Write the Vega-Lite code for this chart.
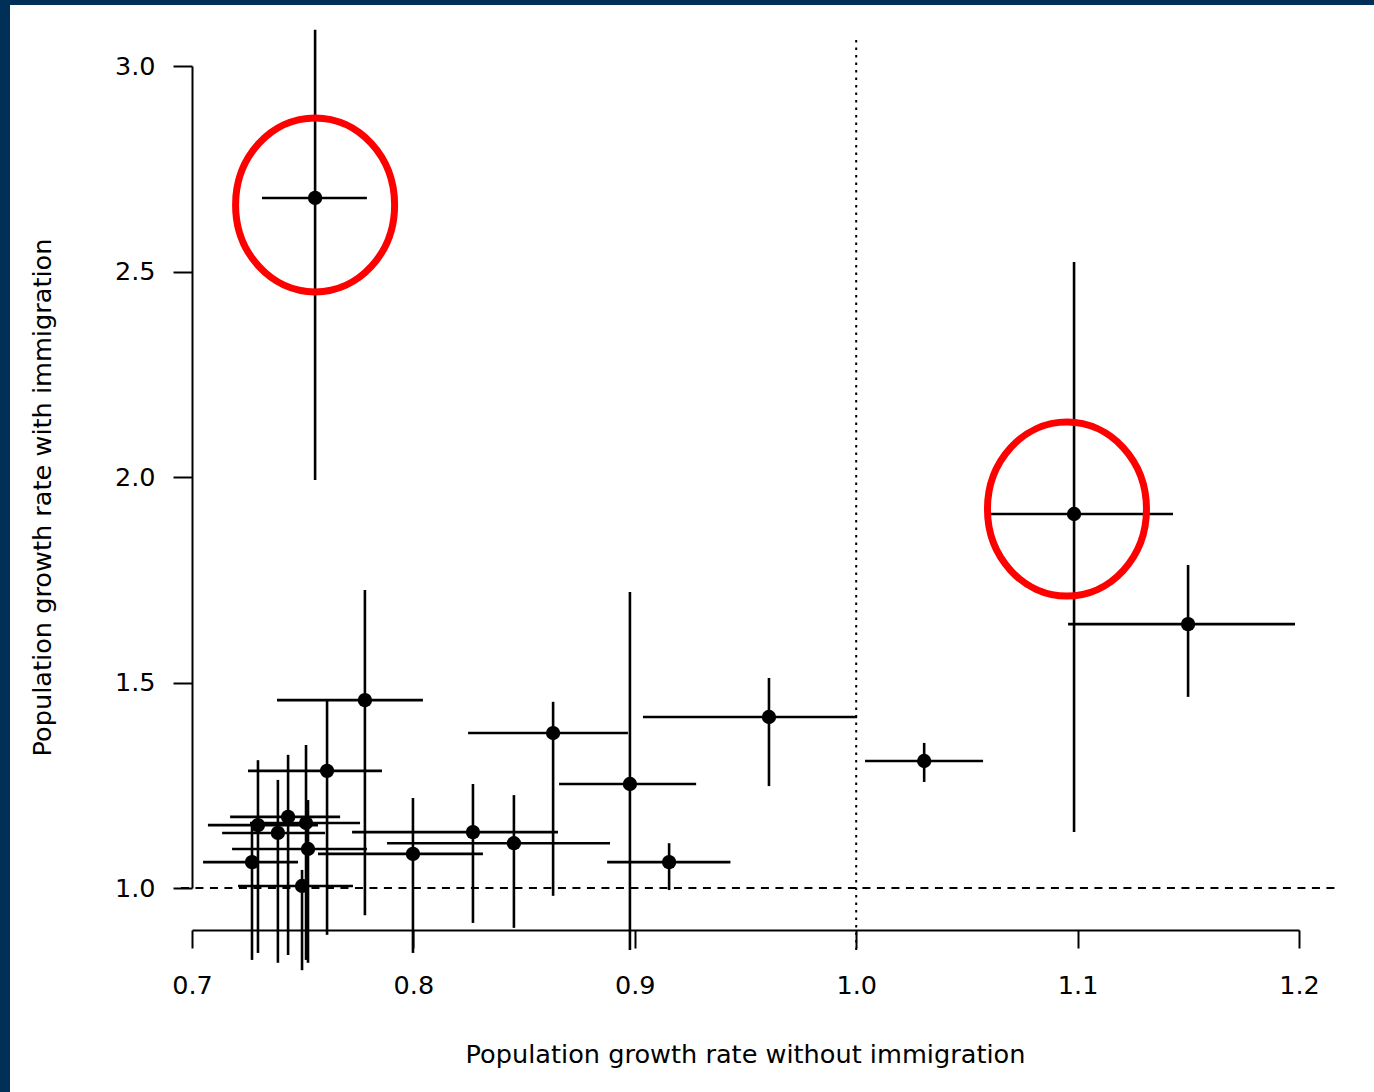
{
  "$schema": "https://vega.github.io/schema/vega-lite/v6.json",
  "padding": 0,
  "background": "white",
  "config": {"view": {"stroke": null}, "font": "DejaVu Sans"},
  "bounds": "flush",
  "spacing": 0,
  "hconcat": [
    {"width": 10, "height": 1092, "view": {"fill": "#003057", "stroke": null}, "data": {"values": []}, "mark": "rect", "encoding": {}},
    {
      "bounds": "flush",
      "spacing": 61,
      "vconcat": [
        {"width": 1364, "height": 5, "view": {"fill": "#003057", "stroke": null}, "data": {"values": []}, "mark": "rect", "encoding": {}},
        {
          "bounds": "flush",
          "spacing": 181,
          "hconcat": [
            {"width": 1, "height": 822, "data": {"values": []}, "mark": "rect", "encoding": {}},
            {
              "width": 1107,
              "height": 822,
              "data": {"values": [
                {"x": 0.7556, "xlo": 0.7316, "xhi": 0.7790, "y": 2.679, "ylo": 1.993, "yhi": 3.088},
                {"x": 1.0984, "xlo": 1.0605, "xhi": 1.1431, "y": 1.910, "ylo": 1.136, "yhi": 2.523},
                {"x": 1.1499, "xlo": 1.0957, "xhi": 1.1982, "y": 1.642, "ylo": 1.465, "yhi": 1.786},
                {"x": 1.0307, "xlo": 1.0040, "xhi": 1.0573, "y": 1.309, "ylo": 1.258, "yhi": 1.353},
                {"x": 0.9606, "xlo": 0.9037, "xhi": 1.0004, "y": 1.416, "ylo": 1.248, "yhi": 1.511},
                {"x": 0.8631, "xlo": 0.8247, "xhi": 0.8969, "y": 1.377, "ylo": 0.981, "yhi": 1.453},
                {"x": 0.8978, "xlo": 0.8658, "xhi": 0.9277, "y": 1.253, "ylo": 0.849, "yhi": 1.720},
                {"x": 0.9155, "xlo": 0.8875, "xhi": 0.9432, "y": 1.063, "ylo": 0.995, "yhi": 1.109},
                {"x": 0.8454, "xlo": 0.7881, "xhi": 0.8888, "y": 1.109, "ylo": 0.903, "yhi": 1.226},
                {"x": 0.8269, "xlo": 0.7723, "xhi": 0.8653, "y": 1.136, "ylo": 0.915, "yhi": 1.253},
                {"x": 0.7998, "xlo": 0.7569, "xhi": 0.8314, "y": 1.083, "ylo": 0.842, "yhi": 1.219},
                {"x": 0.7781, "xlo": 0.7384, "xhi": 0.8043, "y": 1.457, "ylo": 0.934, "yhi": 1.725},
                {"x": 0.7610, "xlo": 0.7253, "xhi": 0.7858, "y": 1.285, "ylo": 0.886, "yhi": 1.457},
                {"x": 0.7298, "xlo": 0.7072, "xhi": 0.7569, "y": 1.153, "ylo": 0.842, "yhi": 1.311},
                {"x": 0.7434, "xlo": 0.7172, "xhi": 0.7669, "y": 1.173, "ylo": 0.837, "yhi": 1.324},
                {"x": 0.7388, "xlo": 0.7136, "xhi": 0.7601, "y": 1.134, "ylo": 0.818, "yhi": 1.263},
                {"x": 0.7515, "xlo": 0.7262, "xhi": 0.7759, "y": 1.158, "ylo": 0.825, "yhi": 1.348},
                {"x": 0.7524, "xlo": 0.7181, "xhi": 0.7790, "y": 1.095, "ylo": 0.818, "yhi": 1.214},
                {"x": 0.7271, "xlo": 0.7050, "xhi": 0.7479, "y": 1.063, "ylo": 0.825, "yhi": 1.158},
                {"x": 0.7497, "xlo": 0.7208, "xhi": 0.7727, "y": 1.005, "ylo": 0.800, "yhi": 1.044}
              ]},
              "layer": [
                {
                  "data": {"values": [{"x": 0.695, "x2": 1.2186, "y": 1.0}]},
                  "mark": {"type": "rule", "clip": false, "strokeDash": [8, 6.5], "strokeWidth": 2, "color": "black"},
                  "encoding": {
                    "x": {"field": "x", "type": "quantitative", "scale": {"domain": [0.7, 1.2], "nice": false, "zero": false},
                      "axis": {"title": "Population growth rate without immigration", "values": [0.7, 0.8, 0.9, 1.0, 1.1, 1.2], "format": ".1f",
                        "offset": 42, "grid": false, "domainColor": "black", "domainWidth": 2, "tickColor": "black", "tickWidth": 2, "tickSize": 18,
                        "labelFontSize": 25.5, "labelColor": "black", "labelPadding": 25, "labelFlush": false, "labelOverlap": false, "labelBound": false,
                        "titleFontSize": 25.6, "titleFontWeight": "normal", "titleColor": "black", "titleX": 553, "titleY": 124, "titleAlign": "center", "titleBaseline": "middle"}},
                    "x2": {"field": "x2"},
                    "y": {"field": "y", "type": "quantitative", "scale": {"domain": [1.0, 3.0], "nice": false, "zero": false},
                      "axis": {"title": "Population growth rate with immigration", "values": [1.0, 1.5, 2.0, 2.5, 3.0], "format": ".1f",
                        "offset": 0, "grid": false, "domainColor": "black", "domainWidth": 2, "tickColor": "black", "tickWidth": 2, "tickSize": 19,
                        "labelFontSize": 25.5, "labelColor": "black", "labelPadding": 18, "labelFlush": false, "labelOverlap": false, "labelBound": false,
                        "titleFontSize": 25.6, "titleFontWeight": "normal", "titleColor": "black", "titleX": -150, "titleY": 431, "titleAlign": "center", "titleBaseline": "middle", "titleAngle": -90}}
                  }
                },
                {
                  "data": {"values": [{"x": 1.0, "y": 0.849, "y2": 3.075}]},
                  "mark": {"type": "rule", "clip": false, "strokeDash": [2.5, 5], "strokeWidth": 2, "color": "black"},
                  "encoding": {
                    "x": {"field": "x", "type": "quantitative", "scale": {"domain": [0.7, 1.2], "nice": false, "zero": false}},
                    "y": {"field": "y", "type": "quantitative", "scale": {"domain": [1.0, 3.0], "nice": false, "zero": false}},
                    "y2": {"field": "y2"}
                  }
                },
                {
                  "mark": {"type": "rule", "clip": false, "strokeWidth": 2.6, "color": "black"},
                  "encoding": {
                    "x": {"field": "xlo", "type": "quantitative", "scale": {"domain": [0.7, 1.2], "nice": false, "zero": false}},
                    "x2": {"field": "xhi"},
                    "y": {"field": "y", "type": "quantitative", "scale": {"domain": [1.0, 3.0], "nice": false, "zero": false}}
                  }
                },
                {
                  "mark": {"type": "rule", "clip": false, "strokeWidth": 2.6, "color": "black"},
                  "encoding": {
                    "x": {"field": "x", "type": "quantitative", "scale": {"domain": [0.7, 1.2], "nice": false, "zero": false}},
                    "y": {"field": "ylo", "type": "quantitative", "scale": {"domain": [1.0, 3.0], "nice": false, "zero": false}},
                    "y2": {"field": "yhi"}
                  }
                },
                {
                  "mark": {"type": "point", "clip": false, "filled": true, "size": 205, "color": "black", "opacity": 1},
                  "encoding": {
                    "x": {"field": "x", "type": "quantitative", "scale": {"domain": [0.7, 1.2], "nice": false, "zero": false}},
                    "y": {"field": "y", "type": "quantitative", "scale": {"domain": [1.0, 3.0], "nice": false, "zero": false}}
                  }
                },
                {
                  "data": {"values": [{"x": 0.7556, "y": 2.662}, {"x": 1.0952, "y": 1.922}]},
                  "mark": {"type": "point", "clip": false, "filled": false, "shape": "M -0.914 0 A 0.914 1 0 1 0 0.914 0 A 0.914 1 0 1 0 -0.914 0 Z", "size": 30276, "stroke": "#ff0000", "strokeWidth": 7, "opacity": 1},
                  "encoding": {
                    "x": {"field": "x", "type": "quantitative", "scale": {"domain": [0.7, 1.2], "nice": false, "zero": false}},
                    "y": {"field": "y", "type": "quantitative", "scale": {"domain": [1.0, 3.0], "nice": false, "zero": false}}
                  }
                }
              ]
            }
          ]
        }
      ]
    }
  ]
}
